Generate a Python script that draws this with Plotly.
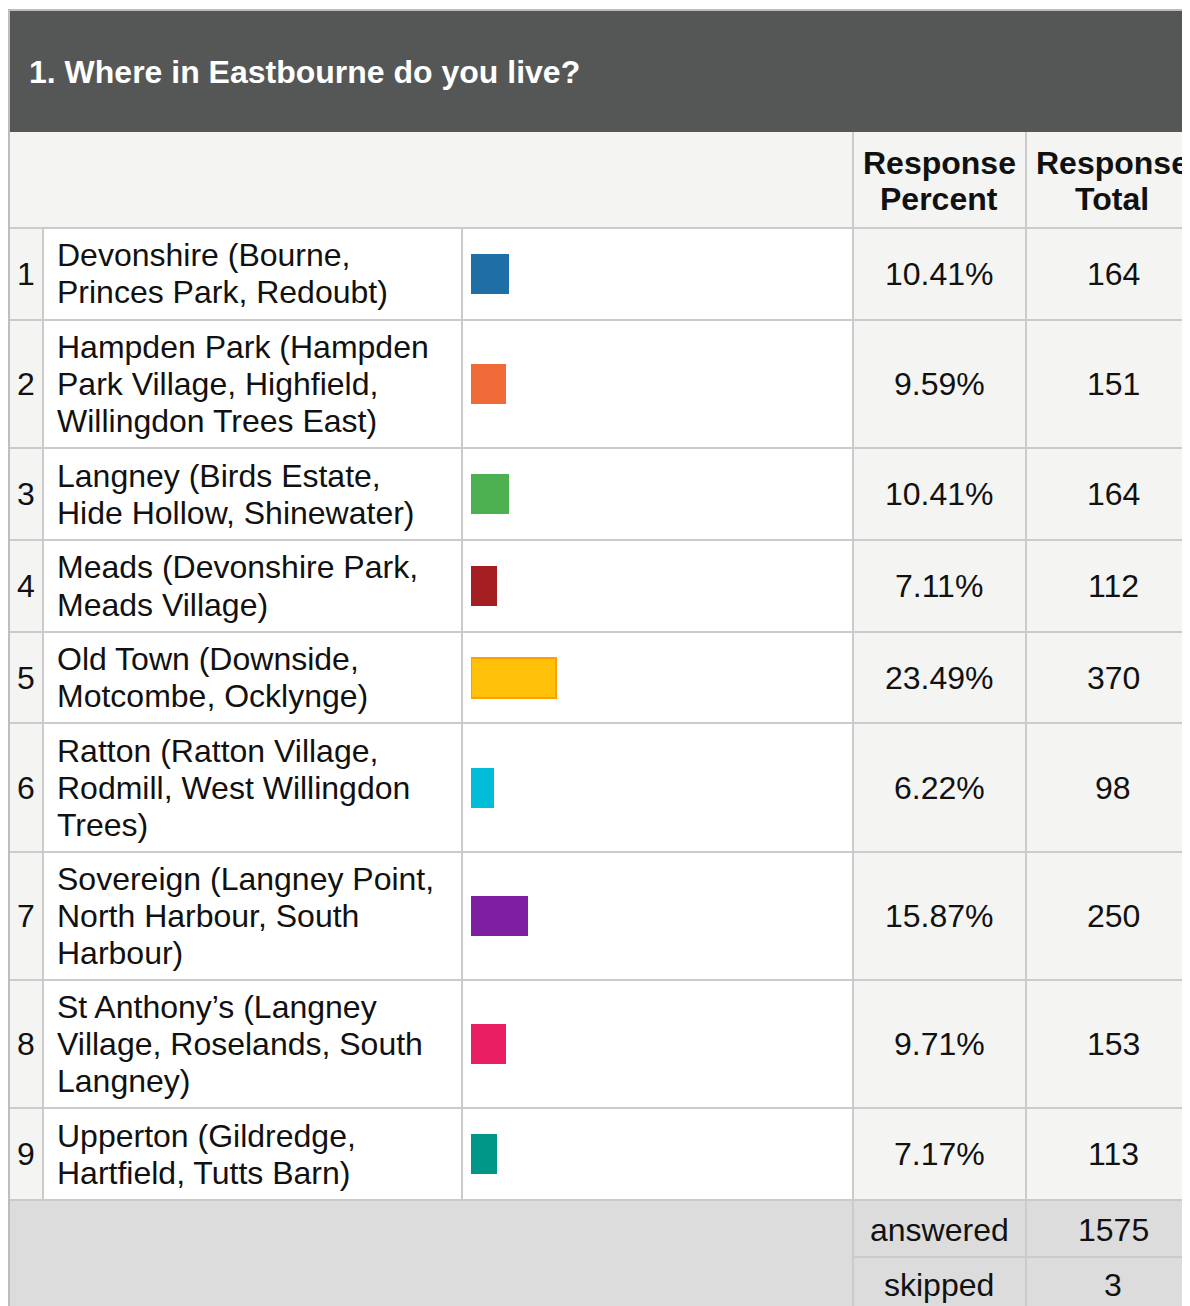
import plotly.graph_objects as go

# 問卷資料
title = "1. Where in Eastbourne do you live?"
areas = [
    "Devonshire (Bourne,\nPrinces Park, Redoubt)",
    "Hampden Park (Hampden\nPark Village, Highfield,\nWillingdon Trees East)",
    "Langney (Birds Estate,\nHide Hollow, Shinewater)",
    "Meads (Devonshire Park,\nMeads Village)",
    "Old Town (Downside,\nMotcombe, Ocklynge)",
    "Ratton (Ratton Village,\nRodmill, West Willingdon\nTrees)",
    "Sovereign (Langney Point,\nNorth Harbour, South\nHarbour)",
    "St Anthony’s (Langney\nVillage, Roselands, South\nLangney)",
    "Upperton (Gildredge,\nHartfield, Tutts Barn)",
]
percents = [10.41, 9.59, 10.41, 7.11, 23.49, 6.22, 15.87, 9.71, 7.17]
totals = [164, 151, 164, 112, 370, 98, 250, 153, 113]
bar_colors = ["#1f6ea6", "#f06a37", "#4caf50", "#a31d21", "#ffc107",
              "#00bcd6", "#7e1fa3", "#e91e63", "#009688"]
answered = 1575
skipped = 3

# 版面 (螢幕像素, 頁面本身有 8px 的邊距)
W, H = 1190, 1306
OFF = 8
FONT = "Liberation Sans, Arial, sans-serif"
FS = 32
GRID = "#cbcbcb"
LIGHT = "#f4f4f3"
FOOT = "#dcdcdc"
row_edges = [228, 320, 448, 540, 632, 723, 852, 980, 1108, 1200]
row_mid = [(a + b) / 2 for a, b in zip(row_edges[:-1], row_edges[1:])]

shapes = []
annots = []


def px(x):
    return (x - OFF) / W


def py(y):
    return 1 - (y - OFF) / H


def rect(x0, y0, x1, y1, fill):
    shapes.append(dict(type="rect", xref="paper", yref="paper",
                       x0=px(x0), y0=py(y0), x1=px(x1), y1=py(y1),
                       fillcolor=fill, line=dict(width=0), layer="below"))


def hline(x0, x1, y, color=GRID, w=2):
    shapes.append(dict(type="line", xref="paper", yref="paper",
                       x0=px(x0), x1=px(x1), y0=py(y), y1=py(y),
                       line=dict(color=color, width=w), layer="below"))


def vline(x, y0, y1, color=GRID, w=2):
    shapes.append(dict(type="line", xref="paper", yref="paper",
                       x0=px(x), x1=px(x), y0=py(y0), y1=py(y1),
                       line=dict(color=color, width=w), layer="below"))


def text(x, y, s, size=FS, color="#111111", anchor="center", bold=False):
    if bold:
        s = "<b>" + s + "</b>"
    annots.append(dict(xref="paper", yref="paper", x=px(x), y=py(y), text=s,
                       showarrow=False, xanchor=anchor, yanchor="middle",
                       font=dict(family=FONT, size=size, color=color)))


# 標題列
rect(9, 10, W, 132, "#555756")
text(27, 72, title, size=FS, color="white", anchor="left", bold=True)
hline(8, W, 10, color="#bdbdbd", w=2)

# 欄位標題
rect(9, 132, W, 228, LIGHT)
text(939, 163, "Response", bold=True)
text(939, 199, "Percent", bold=True)
text(1112, 163, "Response", bold=True)
text(1112, 199, "Total", bold=True)

# 每列
for i, (name, p, t) in enumerate(zip(areas, percents, totals)):
    y0, y1 = row_edges[i], row_edges[i + 1]
    rect(9, y0, 43, y1, LIGHT)
    rect(853, y0, W, y1, LIGHT)
    text(26, row_mid[i], str(i + 1))
    lines = name.split("\n")
    for k, ln in enumerate(lines):
        text(55, row_mid[i] + (k - (len(lines) - 1) / 2) * 37, ln, anchor="left")
    text(939, row_mid[i], f"{p:.2f}%")
    text(1113, row_mid[i], str(t))

# 底部統計
rect(9, 1201, W, H, FOOT)
hline(853, W, 1257)
text(939, 1230, "answered")
text(1113, 1230, str(answered))
text(939, 1285, "skipped")
text(1113, 1285, str(skipped))

for y in row_edges:
    hline(9, W, y)
vline(43, 228, 1200)
vline(462, 228, 1200)
vline(853, 132, 1306)
vline(1026, 132, 1306)
vline(9, 10, H, color="#bdbdbd", w=2)

fig = go.Figure()
fig.add_trace(go.Bar(
    x=percents, y=row_mid, orientation="h", width=40,
    marker=dict(color=bar_colors,
                line=dict(color=["#ff9f00" if c == "#ffc107" else c for c in bar_colors],
                          width=[2 if c == "#ffc107" else 0 for c in bar_colors])),
    hoverinfo="skip", showlegend=False,
))

fig.update_layout(
    width=W, height=H,
    margin=dict(l=0, r=0, t=0, b=0),
    paper_bgcolor="white", plot_bgcolor="rgba(0,0,0,0)",
    xaxis=dict(domain=[px(471), px(471 + 362)], range=[0, 100], visible=False, fixedrange=True),
    yaxis=dict(domain=[0, 1], range=[H + OFF, OFF], visible=False, fixedrange=True),
    shapes=shapes, annotations=annots,
    bargap=0,
)

fig.write_html("out.html")
